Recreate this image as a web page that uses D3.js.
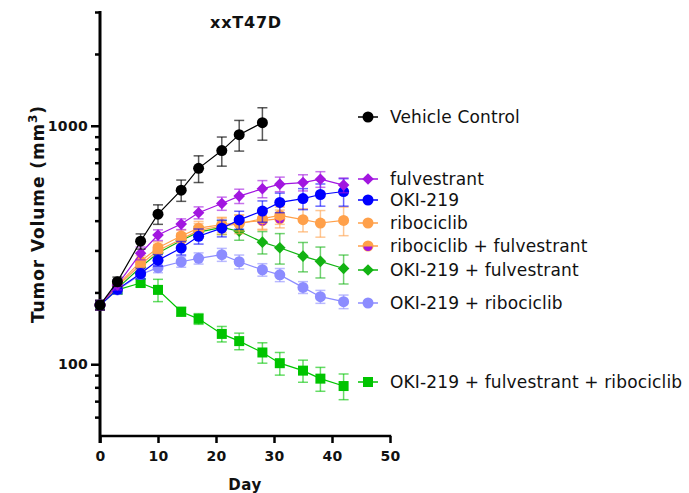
<!DOCTYPE html>
<html>
<head>
<meta charset="utf-8">
<script src="https://cdn.jsdelivr.net/npm/d3@7"></script>
<style>
  html, body { margin: 0; padding: 0; background: #fff; }
  svg { display: block; }
  text { font-family: "DejaVu Sans", "Noto Sans", sans-serif; fill: #111; }
</style>
</head>
<body>
<svg id="chart" width="689" height="493"></svg>
<script>
// ---------- data ----------
const title = "xxT47D";
const xLabel = "Day";
const yLabel = "Tumor Volume (mm";
const days = [0, 3, 7, 10, 14, 17, 21, 24, 28, 31, 35, 38, 42];
const xTicks = [0, 10, 20, 30, 40, 50];
const yMajorTicks = [100, 1000];
const yMinorTicks = [60, 70, 80, 90, 200, 300, 400, 500, 600, 700, 800, 900, 2000, 3000];

const seriesNames = ["Vehicle Control", "fulvestrant", "OKI-219", "ribociclib",
  "ribociclib + fulvestrant", "OKI-219 + fulvestrant", "OKI-219 + ribociclib",
  "OKI-219 + fulvestrant + ribociclib"];

const vehicle    = [177, 222, 328, 426, 537, 663, 787, 918, 1030];
const vehicleErr = [8, 10, 24, 40, 55, 85, 110, 135, 160];
const fulv       = [177, 215, 292, 348, 387, 432, 472, 507, 544, 569, 578, 597, 564];
const fulvErr    = [8, 10, 18, 18, 20, 25, 30, 35, 45, 40, 45, 45, 40];
const oki        = [177, 206, 240, 273, 307, 344, 372, 403, 439, 477, 495, 515, 530];
const okiErr     = [8, 8, 12, 15, 20, 25, 30, 35, 45, 45, 50, 55, 70];
const ribo       = [177, 212, 262, 300, 334, 364, 380, 388, 408, 421, 404, 391, 401];
const riboErr    = [8, 10, 15, 18, 20, 25, 30, 35, 40, 35, 45, 50, 55];
const riboFulv   = [177, 214, 270, 308, 345, 372, 385, 392, 400, 408];
const riboFulvErr= [8, 10, 15, 18, 20, 25, 28, 30, 35, 35];
const okiFulv    = [177, 208, 255, 293, 330, 358, 375, 361, 325, 308, 284, 270, 252];
const okiFulvErr = [8, 8, 12, 15, 18, 20, 25, 30, 35, 45, 40, 40, 35];
const okiRibo    = [177, 205, 238, 254, 269, 278, 288, 269, 249, 237, 210, 192, 183];
const okiRiboErr = [8, 8, 10, 12, 14, 15, 18, 18, 15, 15, 12, 12, 12];
const triple     = [177, 205, 219, 205, 166, 155, 134, 125, 112, 101, 94, 87, 81];
const tripleErr  = [8, 8, 8, 22, 7, 8, 10, 10, 11, 11, 10, 10, 10];

const seriesValues = [vehicle, fulv, oki, ribo, riboFulv, okiFulv, okiRibo, triple];
const seriesErrors = [vehicleErr, fulvErr, okiErr, riboErr, riboFulvErr, okiFulvErr, okiRiboErr, tripleErr];
const seriesColors = ["#000000", "#A216E0", "#0000FF", "#FFA04A", "#FFA04A", "#12B312", "#8C8CFF", "#00C400"];
const seriesShapes = ["circle", "diamond", "circle", "circle", "half", "diamond", "circle", "square"];
const legendY = [117, 179, 200, 223, 246, 270, 303, 382];

// ---------- layout ----------
const svg = d3.select("#chart");
const x = d3.scaleLinear().domain([0, 50]).range([100, 390]);
const y = d3.scaleLog().domain([50, 3000]).range([436, 12]);

// ---------- axes ----------
const axisG = svg.append("g");
const yAxis = d3.axisLeft(y).tickValues(yMajorTicks).tickFormat(d3.format("d")).tickSize(9).tickPadding(3);
const yAx = axisG.append("g").attr("transform", `translate(${x(0)},0)`).call(yAxis);
yAx.select(".domain").remove();
yAx.selectAll("line").attr("stroke", "#000").attr("stroke-width", 2.5);
yAx.selectAll("text").style("font-size", "14px").style("font-weight", "bold").style("letter-spacing", "0.3px").attr("fill", "#111");
const yMin = d3.axisLeft(y).tickValues(yMinorTicks).tickFormat("").tickSize(5);
const yMn = axisG.append("g").attr("transform", `translate(${x(0)},0)`).call(yMin);
yMn.select(".domain").remove();
yMn.selectAll("line").attr("stroke", "#000").attr("stroke-width", 2.5);
axisG.append("line").attr("x1", x(0)).attr("x2", x(0)).attr("y1", y(3000) - 1).attr("y2", y(50) + 7)
  .attr("stroke", "#000").attr("stroke-width", 3);

const xAxis = d3.axisBottom(x).tickValues(xTicks).tickSize(7).tickPadding(8);
const xAx = axisG.append("g").attr("transform", `translate(0,${y(50)})`).call(xAxis);
xAx.select(".domain").remove();
xAx.selectAll("line").attr("stroke", "#000").attr("stroke-width", 2.5);
xAx.selectAll("text").style("font-size", "14px").style("font-weight", "bold").style("letter-spacing", "0.3px").attr("fill", "#111");
axisG.append("line").attr("x1", x(0)).attr("x2", x(50) + 1.2).attr("y1", y(50)).attr("y2", y(50))
  .attr("stroke", "#000").attr("stroke-width", 2.5);

// labels
svg.append("text").attr("x", 246).attr("y", 28).attr("text-anchor", "middle")
  .style("font-size", "16px").style("font-weight", "bold").style("letter-spacing", "0.8px").text(title);
svg.append("text").attr("x", 245).attr("y", 490).attr("text-anchor", "middle")
  .style("font-size", "15px").style("font-weight", "bold").style("letter-spacing", "0.5px").text(xLabel);
const yl = svg.append("text").attr("transform", "translate(44,214) rotate(-90)").attr("text-anchor", "middle")
  .style("font-size", "17px").style("font-weight", "bold").style("letter-spacing", "0.9px");
yl.append("tspan").text(yLabel);
yl.append("tspan").attr("dy", -7).style("font-size", "12px").text("3");
yl.append("tspan").attr("dy", 7).text(")");

// ---------- markers ----------
function drawMarker(g, shape, color, cx, cy) {
  if (shape === "circle") {
    g.append("circle").attr("cx", cx).attr("cy", cy).attr("r", 5.5).attr("fill", color);
  } else if (shape === "diamond") {
    const r = 5.8;
    g.append("path").attr("d", `M${cx},${cy - r}L${cx + r},${cy}L${cx},${cy + r}L${cx - r},${cy}Z`).attr("fill", color);
  } else if (shape === "square") {
    g.append("rect").attr("x", cx - 5).attr("y", cy - 5).attr("width", 10).attr("height", 10).attr("fill", color);
  } else if (shape === "half") {
    g.append("circle").attr("cx", cx).attr("cy", cy).attr("r", 5.5).attr("fill", color);
    const arc = d3.arc().innerRadius(0).outerRadius(4.5).startAngle(Math.PI / 2).endAngle(Math.PI * 1.5);
    g.append("path").attr("d", arc()).attr("transform", `translate(${cx},${cy + 0.5})`).attr("fill", "#A216E0");
  }
}

// ---------- series (drawn back to front) ----------
const order = [7, 6, 5, 4, 3, 2, 1, 0];
const line = d3.line().x(d => x(d.day)).y(d => y(d.v));
order.forEach(i => {
  const vals = seriesValues[i];
  const errs = seriesErrors[i];
  const color = seriesColors[i];
  const pts = vals.map((v, k) => ({ day: days[k], v: v, e: errs[k] }));
  const g = svg.append("g");
  pts.forEach(p => {
    const eg = g.append("g").attr("stroke", color).attr("stroke-width", 1.5).attr("stroke-opacity", i === 0 ? 0.65 : 0.6);
    eg.append("line").attr("x1", x(p.day)).attr("x2", x(p.day)).attr("y1", y(p.v + p.e)).attr("y2", y(p.v - p.e));
    eg.append("line").attr("x1", x(p.day) - 5).attr("x2", x(p.day) + 5).attr("y1", y(p.v + p.e)).attr("y2", y(p.v + p.e));
    eg.append("line").attr("x1", x(p.day) - 5).attr("x2", x(p.day) + 5).attr("y1", y(p.v - p.e)).attr("y2", y(p.v - p.e));
  });
  g.append("path").datum(pts).attr("d", line).attr("fill", "none").attr("stroke", color).attr("stroke-width", 1.2);
  pts.forEach(p => drawMarker(g, seriesShapes[i], color, x(p.day), y(p.v)));
});

// ---------- legend ----------
seriesNames.forEach((name, i) => {
  const g = svg.append("g");
  const ly = legendY[i];
  g.append("line").attr("x1", 358).attr("x2", 378).attr("y1", ly).attr("y2", ly)
    .attr("stroke", seriesColors[i]).attr("stroke-width", 1.5);
  drawMarker(g, seriesShapes[i], seriesColors[i], 368, ly);
  g.append("text").attr("x", 390).attr("y", ly + 6).style("font-size", "17px").style("letter-spacing", "0.15px").text(name);
});
</script>
</body>
</html>
